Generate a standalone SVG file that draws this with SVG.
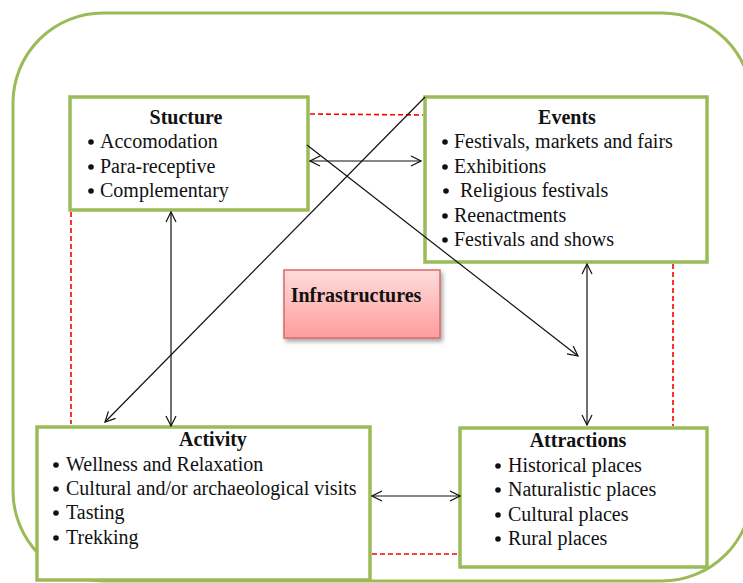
<svg xmlns="http://www.w3.org/2000/svg" width="743" height="583" viewBox="0 0 743 583">
<style>
.box{fill:#fff;stroke:#9bbb59;stroke-width:3.5}
.outer{fill:none;stroke:#9bbb59;stroke-width:3}
.t{font-family:"Liberation Serif","Times New Roman",serif;font-size:20px;fill:#111}
.b{font-weight:bold;text-anchor:middle}
.dash{fill:none;stroke:#ff0000;stroke-width:1.6;stroke-dasharray:5,3}
.arr{fill:none;stroke:#111;stroke-width:1.2}
.dot{fill:#111}
</style>
<defs>
<marker id="ah" viewBox="0 0 12 12" refX="11" refY="6" markerWidth="12" markerHeight="12" markerUnits="userSpaceOnUse" orient="auto-start-reverse">
<path d="M1,1 L11,6 L1,11" fill="none" stroke="#111" stroke-width="1.2"/>
</marker>
<linearGradient id="pink" x1="0" y1="0" x2="0" y2="1">
<stop offset="0" stop-color="#ffdcdc"/>
<stop offset="1" stop-color="#ff9d9d"/>
</linearGradient>
<filter id="sh" x="-20%" y="-20%" width="140%" height="150%">
<feDropShadow dx="2" dy="3" stdDeviation="2" flood-color="#000" flood-opacity="0.35"/>
</filter>
</defs>
<rect class="outer" x="13" y="13" width="739" height="568" rx="90" ry="90"/>
<g id="structure">
<rect class="box" x="70" y="97" width="238" height="113"/>
<text class="t b" x="186" y="124">Stucture</text>
<circle class="dot" cx="91" cy="142" r="2.8"/><text class="t" x="100" y="148">Accomodation</text>
<circle class="dot" cx="91" cy="167" r="2.8"/><text class="t" x="100" y="173">Para-receptive</text>
<circle class="dot" cx="91" cy="191" r="2.8"/><text class="t" x="100" y="197">Complementary</text>
</g>
<g id="events">
<rect class="box" x="425" y="97" width="282" height="165"/>
<text class="t b" x="567" y="124">Events</text>
<circle class="dot" cx="445" cy="142" r="2.8"/><text class="t" x="454" y="148">Festivals, markets and fairs</text>
<circle class="dot" cx="445" cy="167" r="2.8"/><text class="t" x="454" y="173">Exhibitions</text>
<circle class="dot" cx="446" cy="191" r="2.8"/><text class="t" x="460" y="197">Religious festivals</text>
<circle class="dot" cx="445" cy="216" r="2.8"/><text class="t" x="454" y="222">Reenactments</text>
<circle class="dot" cx="445" cy="240" r="2.8"/><text class="t" x="454" y="246">Festivals and shows</text>
</g>
<g id="infrastructures">
<rect x="284" y="270" width="156" height="68" fill="url(#pink)" stroke="#d9686a" stroke-width="1.5" filter="url(#sh)"/>
<text class="t b" x="356" y="302">Infrastructures</text>
</g>
<g id="activity">
<rect class="box" x="37" y="427" width="333" height="153"/>
<text class="t b" x="213" y="446">Activity</text>
<circle class="dot" cx="56" cy="465" r="2.8"/><text class="t" x="66" y="471">Wellness and Relaxation</text>
<circle class="dot" cx="56" cy="489" r="2.8"/><text class="t" x="66" y="495">Cultural and/or archaeological visits</text>
<circle class="dot" cx="56" cy="513" r="2.8"/><text class="t" x="66" y="519">Tasting</text>
<circle class="dot" cx="56" cy="538" r="2.8"/><text class="t" x="66" y="544">Trekking</text>
</g>
<g id="attractions">
<rect class="box" x="460" y="428" width="247" height="139"/>
<text class="t b" x="578" y="447">Attractions</text>
<circle class="dot" cx="498" cy="466" r="2.8"/><text class="t" x="508" y="472">Historical places</text>
<circle class="dot" cx="498" cy="490" r="2.8"/><text class="t" x="508" y="496">Naturalistic places</text>
<circle class="dot" cx="498" cy="515" r="2.8"/><text class="t" x="508" y="521">Cultural places</text>
<circle class="dot" cx="498" cy="539" r="2.8"/><text class="t" x="508" y="545">Rural places</text>
</g>
<g id="connectors">
<path class="dash" d="M310,114 L423,115"/>
<path class="dash" d="M71,212 L71,424"/>
<path class="dash" d="M673,264 L673,426"/>
<path class="dash" d="M372,554 L458,554"/>
<path class="arr" d="M310,161 L421,161" marker-start="url(#ah)" marker-end="url(#ah)"/>
<path class="arr" d="M307,145 L578,356" marker-end="url(#ah)"/>
<path class="arr" d="M425,97 L105,422" marker-end="url(#ah)"/>
<path class="arr" d="M171,212 L171,426" marker-start="url(#ah)" marker-end="url(#ah)"/>
<path class="arr" d="M587,264 L587,425" marker-start="url(#ah)" marker-end="url(#ah)"/>
<path class="arr" d="M372,496 L460,496" marker-start="url(#ah)" marker-end="url(#ah)"/>
</g>
</svg>
